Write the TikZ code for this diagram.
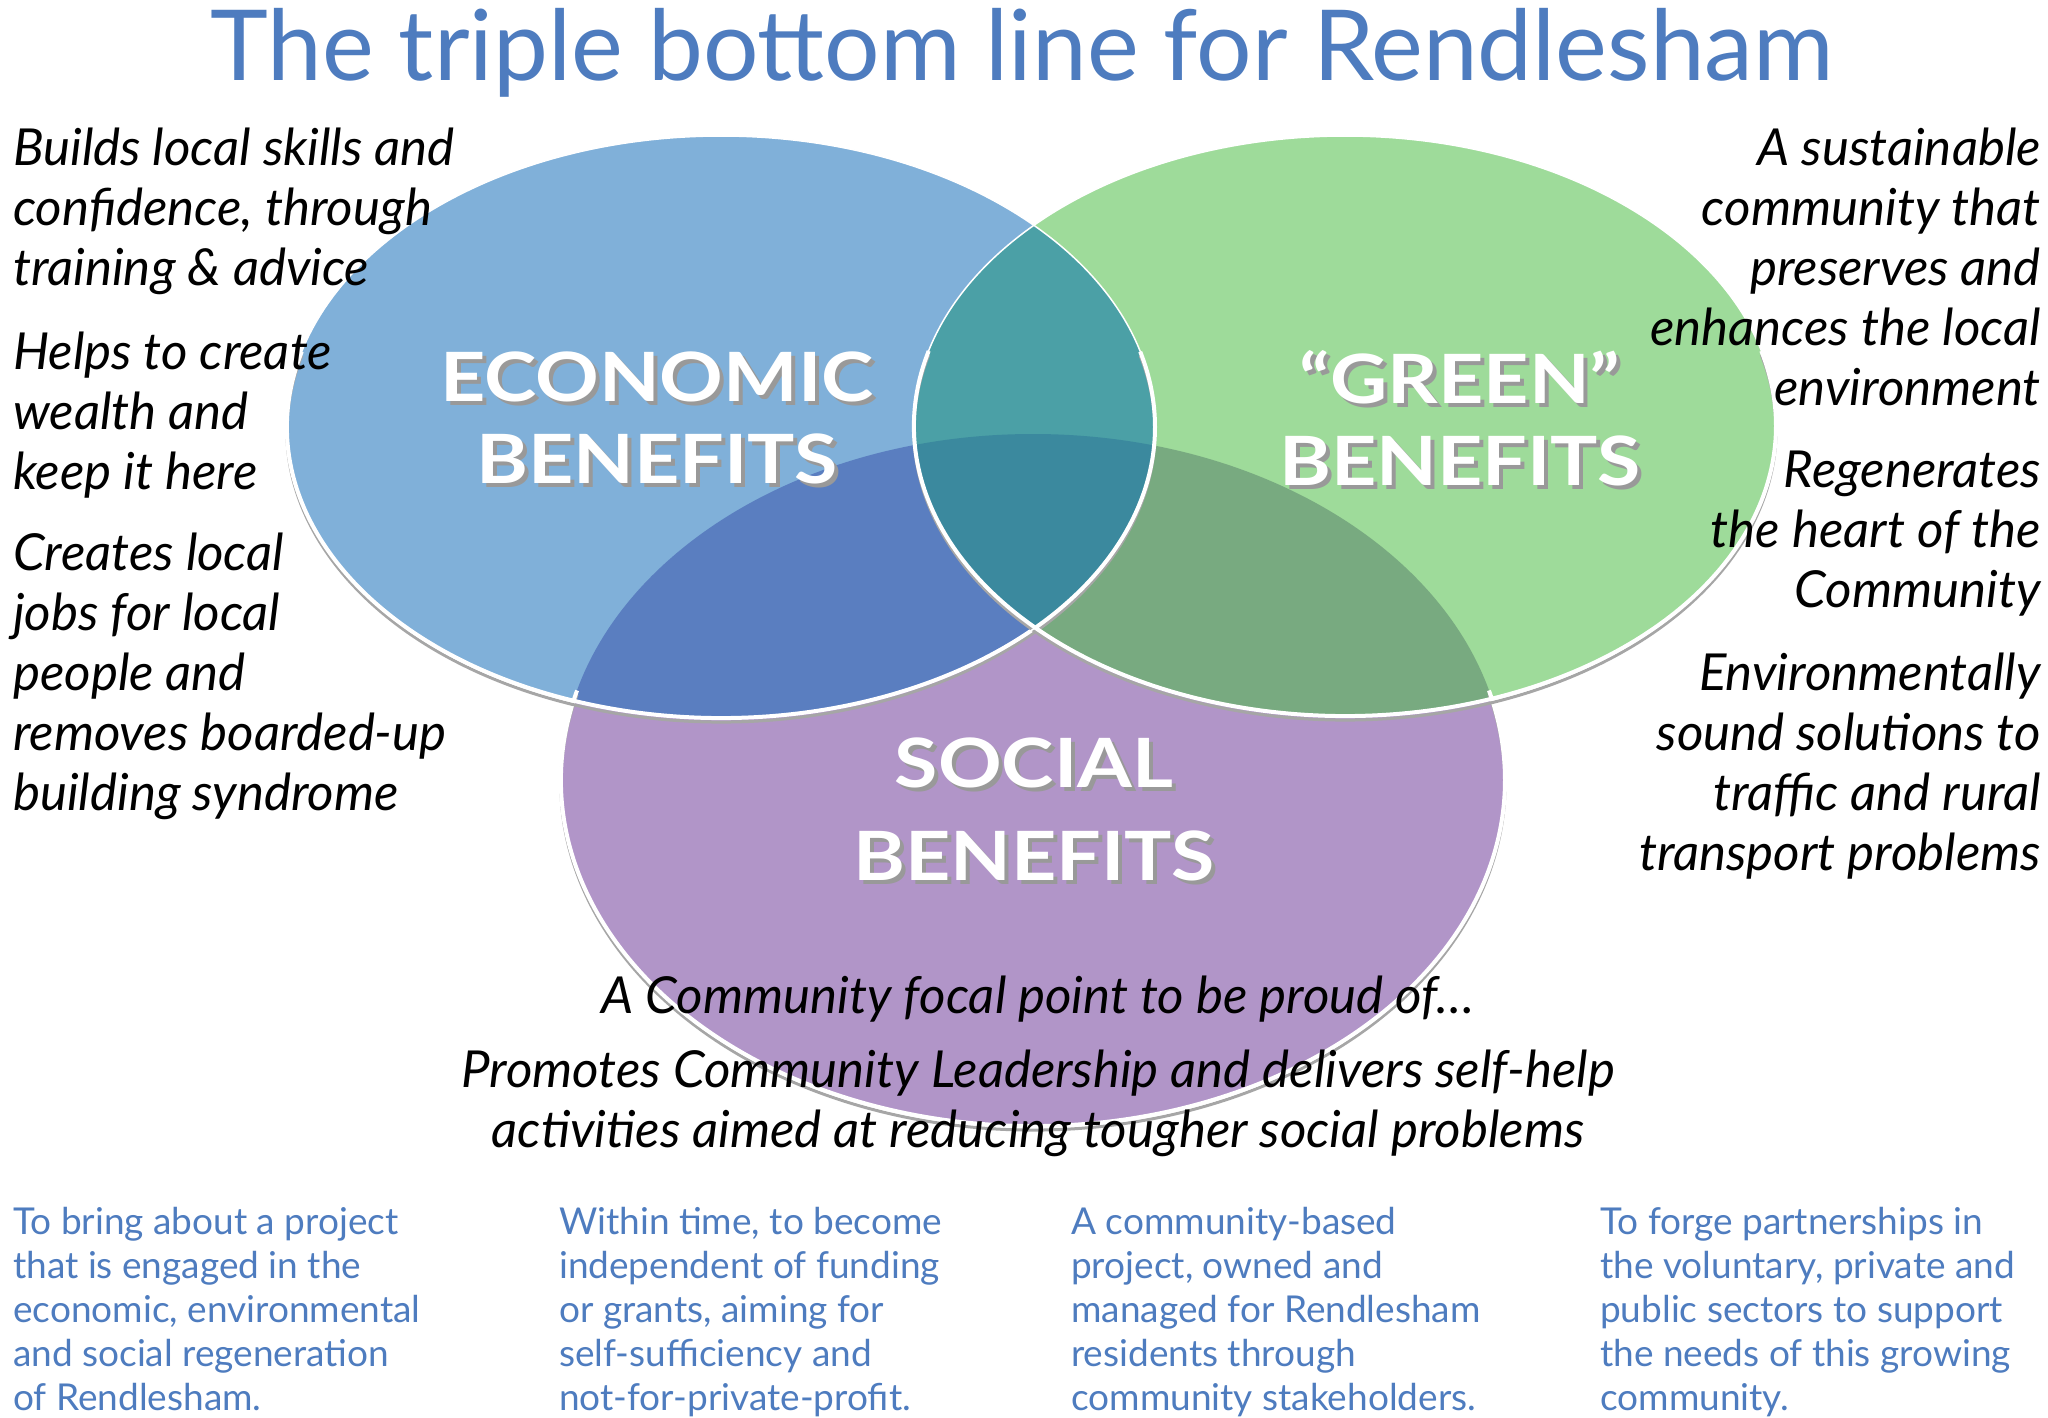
\documentclass[tikz,border=0pt]{standalone}
\usepackage{fontspec}
\setmainfont{Lato}
\newfontfamily\labelfont[FakeStretch=1.16, Ligatures=TeX]{Lato}

\definecolor{econblue}{HTML}{80B0D9}
\definecolor{greenfill}{HTML}{9EDB9A}
\definecolor{socialpurple}{HTML}{B195C8}
\definecolor{econsocial}{HTML}{5A7EC0}
\definecolor{greensocial}{HTML}{78AA80}
\definecolor{econgreen}{HTML}{4BA0A6}
\definecolor{allthree}{HTML}{3B899E}
\definecolor{titleblue}{HTML}{4E7CBF}

\begin{document}
\begin{tikzpicture}[
    x=1pt, y=1pt,
    lefttext/.style={
        anchor=north west, align=left, inner sep=0pt,
        font=\itshape\fontsize{51}{60}\selectfont
    },
    righttext/.style={lefttext, anchor=north east, align=right},
    midtext/.style={lefttext, anchor=north, align=center},
    aimtext/.style={
        anchor=north west, align=left, inner sep=0pt, text=titleblue,
        font=\fontsize{37}{44}\selectfont
    },
    benefit/.style={
        align=center, inner sep=0pt, text=white,
        font=\labelfont\bfseries\fontsize{68}{82}\selectfont
    },
    benefitshadow/.style={benefit, text=black!40},
    rim/.style={white, line width=4},
    rimshadow/.style={black!35, line width=3},
]

    % Canvas.
    \useasboundingbox[fill=white] (0,0) rectangle (2048,-1418);

    % Ellipse centres and radii.
    \def\econX{721}  \def\econY{-427}  \def\econRx{434}  \def\econRy{291}
    \def\grnX{1345}  \def\grnY{-426}   \def\grnRx{431}   \def\grnRy{290}
    \def\socX{1033}  \def\socY{-780}   \def\socRx{472}   \def\socRy{346}

    % ---------- Circles ----------
    \fill[socialpurple] (\socX,\socY) ellipse [x radius=\socRx, y radius=\socRy];
    \fill[econblue] (\econX,\econY) ellipse [x radius=\econRx, y radius=\econRy];
    \fill[greenfill] (\grnX,\grnY) ellipse [x radius=\grnRx, y radius=\grnRy];

    % overlaps
    \begin{scope}
        \clip (\socX,\socY) ellipse [x radius=\socRx, y radius=\socRy];
        \fill[econsocial] (\econX,\econY) ellipse [x radius=\econRx, y radius=\econRy];
        \fill[greensocial] (\grnX,\grnY) ellipse [x radius=\grnRx, y radius=\grnRy];
    \end{scope}
    \begin{scope}
        \clip (\econX,\econY) ellipse [x radius=\econRx, y radius=\econRy];
        \fill[econgreen] (\grnX,\grnY) ellipse [x radius=\grnRx, y radius=\grnRy];
        \clip (\socX,\socY) ellipse [x radius=\socRx, y radius=\socRy];
        \fill[allthree] (\grnX,\grnY) ellipse [x radius=\grnRx, y radius=\grnRy];
    \end{scope}

    % rims on the lower edges
    \draw[rimshadow] (\socX,\socY-4) ++(165:{\socRx} and {\socRy})
        arc [start angle=165, end angle=375, x radius=\socRx, y radius=\socRy];
    \draw[rim] (\socX,\socY) ++(165:{\socRx} and {\socRy})
        arc [start angle=165, end angle=375, x radius=\socRx, y radius=\socRy];
    \draw[rimshadow] (\econX,\econY-4) ++(165:{\econRx} and {\econRy})
        arc [start angle=165, end angle=375, x radius=\econRx, y radius=\econRy];
    \draw[rim] (\econX,\econY) ++(165:{\econRx} and {\econRy})
        arc [start angle=165, end angle=375, x radius=\econRx, y radius=\econRy];
    \draw[rimshadow] (\grnX,\grnY-4) ++(165:{\grnRx} and {\grnRy})
        arc [start angle=165, end angle=375, x radius=\grnRx, y radius=\grnRy];
    \draw[rim] (\grnX,\grnY) ++(165:{\grnRx} and {\grnRy})
        arc [start angle=165, end angle=375, x radius=\grnRx, y radius=\grnRy];
    \draw[white, line width=1.5] (\econX,\econY) ellipse [x radius=\econRx, y radius=\econRy];
    \draw[white, line width=1.5] (\grnX,\grnY) ellipse [x radius=\grnRx, y radius=\grnRy];

    % ---------- Circle labels ----------
    \node[benefitshadow] (econ-shadow) at (661,-422) {ECONOMIC\\BENEFITS};
    \node[benefit] (econ) at (657,-418) {ECONOMIC\\BENEFITS};
    \node[benefitshadow] (green-shadow) at (1464,-422) {“GREEN”\\BENEFITS};
    \node[benefit] (green) at (1460,-418) {“GREEN”\\BENEFITS};
    \node[benefitshadow, font=\labelfont\bfseries\fontsize{68}{93}\selectfont] (social-shadow) at (1038,-813) {SOCIAL\\BENEFITS};
    \node[benefit, font=\labelfont\bfseries\fontsize{68}{93}\selectfont] (social) at (1034,-809) {SOCIAL\\BENEFITS};

    % ---------- Title ----------
    \node[anchor=base, inner sep=0pt, text=titleblue,
        font=\fontsize{98}{110}\selectfont] (title) at (1022,-81)
        {The triple bottom line for Rendlesham};

    % ---------- Left column ----------
    \node[lefttext] (skills) at (13,-128) {Builds local skills and\\confidence, through\\training \& advice};
    \node[lefttext] (wealth) at (13,-332) {Helps to create\\wealth and\\keep it here};
    \node[lefttext] (jobs) at (13,-533) {Creates local\\jobs for local\\people and\\removes boarded-up\\building syndrome};

    % ---------- Right column ----------
    \node[righttext] (sustain) at (2041,-128) {A sustainable\\community that\\preserves and\\enhances the local\\environment};
    \node[righttext] (heart) at (2041,-451) {Regenerates\\the heart of the\\Community};
    \node[righttext] (transport) at (2041,-653) {Environmentally\\sound solutions to\\traffic and rural\\transport problems};

    % ---------- Under the circles ----------
    \node[midtext] (focal) at (1038,-976) {A Community focal point to be proud of\ldots};
    \node[midtext] (leadership) at (1038,-1050) {Promotes Community Leadership and delivers self-help\\activities aimed at reducing tougher social problems};

    % ---------- Aims ----------
    \node[aimtext] (aim-regen) at (13,-1207) {To bring about a project\\that is engaged in the\\economic, environmental\\and social regeneration\\of Rendlesham.};
    \node[aimtext] (aim-indep) at (559,-1207) {Within time, to become\\independent of funding\\or grants, aiming for\\self-sufficiency and\\not-for-private-profit.};
    \node[aimtext] (aim-owned) at (1071,-1207) {A community-based\\project, owned and\\managed for Rendlesham\\residents through\\community stakeholders.};
    \node[aimtext] (aim-partner) at (1600,-1207) {To forge partnerships in\\the voluntary, private and\\public sectors to support\\the needs of this growing\\community.};

\end{tikzpicture}
\end{document}
